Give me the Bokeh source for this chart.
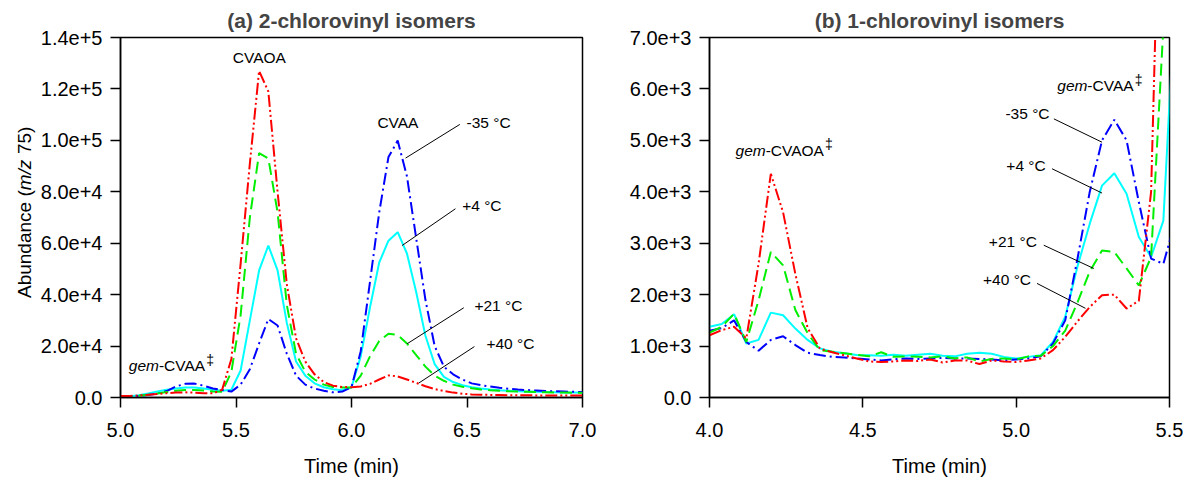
from math import pi
from bokeh.plotting import figure
from bokeh.layouts import row
from bokeh.models import Range1d, FixedTicker, Label
from bokeh.embed import file_html
from bokeh.resources import INLINE

FONT = "Liberation Sans"

# ---------------- data: (a) 2-chlorovinyl isomers ----------------
t_left = [5.00, 5.04, 5.08, 5.12, 5.16, 5.20, 5.24, 5.28, 5.32, 5.36, 5.40, 5.44, 5.48,
          5.52, 5.56, 5.60, 5.64, 5.68, 5.72, 5.76, 5.80, 5.84, 5.88, 5.92, 5.96, 6.00,
          6.04, 6.08, 6.12, 6.16, 6.20, 6.24, 6.28, 6.32, 6.36, 6.40, 6.44, 6.48, 6.52,
          6.56, 6.60, 6.64, 6.68, 6.72, 6.76, 6.80, 6.84, 6.88, 6.92, 6.96, 7.00]
a_m35 = [300, 400, 600, 1000, 1500, 2500, 4300, 5300, 5400, 4600, 3500, 2900, 2300,
         5000, 11000, 21000, 30500, 28000, 17000, 8500, 5000, 3500, 2600, 2000, 2300, 4000,
         18000, 45000, 72000, 93500, 99900, 86000, 62000, 38000, 20000, 12000, 9000, 7000, 5500,
         4800, 4300, 3800, 3400, 3100, 2900, 2700, 2500, 2400, 2300, 2200, 2100]
a_p4 = [400, 500, 900, 1600, 2300, 3000, 3500, 3900, 3900, 3500, 3000, 2600, 3000,
        10500, 30000, 49400, 59100, 49400, 29000, 14000, 8500, 5500, 4000, 3200, 2800, 4000,
        16000, 35000, 52500, 61000, 64300, 56000, 41000, 24000, 13000, 8000, 6000, 4800, 4000,
        3500, 3100, 2800, 2600, 2400, 2300, 2200, 2100, 2000, 1900, 1900, 1800]
a_p21 = [300, 400, 700, 1100, 1600, 2100, 2600, 2900, 2900, 2700, 2300, 2200, 10000,
         32000, 70000, 95000, 93000, 72000, 36000, 17000, 10000, 7000, 5000, 4100, 3900, 3900,
         8500, 16000, 22000, 24800, 24300, 21000, 16500, 12000, 8500, 6500, 5000, 4200, 3600,
         3100, 2800, 2600, 2400, 2300, 2200, 2100, 2000, 1900, 1900, 1800, 1800]
a_p40 = [600, 600, 800, 1100, 1400, 1700, 1900, 2000, 1900, 1700, 1600, 3000, 15000,
         52000, 91000, 127000, 119000, 80000, 44000, 23000, 14000, 9000, 6000, 4600, 4100, 4000,
         4300, 5300, 7000, 8600, 8200, 7000, 5700, 4400, 3300, 2500, 1900, 1500, 1200,
         1100, 1000, 1000, 900, 900, 900, 800, 800, 800, 800, 800, 800]

# ---------------- data: (b) 1-chlorovinyl isomers ----------------
t_right = [4.00, 4.04, 4.08, 4.12, 4.16, 4.20, 4.24, 4.28, 4.32, 4.36, 4.40, 4.44, 4.48,
           4.52, 4.56, 4.60, 4.64, 4.68, 4.72, 4.76, 4.80, 4.84, 4.88, 4.92, 4.96, 5.00,
           5.04, 5.08, 5.12, 5.16, 5.20, 5.24, 5.28, 5.32, 5.36, 5.40, 5.44, 5.48, 5.52]
b_m35 = [1300, 1350, 1500, 1080, 910, 1120, 1190, 1020, 870, 825, 790, 780, 760,
         740, 720, 740, 760, 750, 760, 770, 760, 760, 750, 740, 720, 740,
         760, 800, 1050, 1500, 2700, 4000, 5000, 5400, 5000, 3800, 2700, 2600, 3450]
b_p4 = [1375, 1430, 1620, 1050, 1120, 1650, 1600, 1340, 1120, 955, 890, 860, 825,
        820, 810, 830, 810, 830, 850, 810, 800, 850, 870, 850, 790, 760,
        790, 820, 1080, 1570, 2550, 3380, 4120, 4360, 3960, 3120, 2730, 3440, 8040]
b_p21 = [1260, 1375, 1630, 1080, 1890, 2830, 2570, 1700, 1250, 920, 890, 860, 830,
         800, 880, 790, 800, 790, 780, 800, 760, 780, 700, 750, 760, 740,
         800, 810, 1000, 1300, 1850, 2450, 2860, 2830, 2510, 2180, 2730, 7200, 9000]
b_p40 = [1210, 1310, 1375, 1150, 2600, 4350, 3600, 2400, 1350, 950, 880, 820, 760,
         700, 690, 700, 720, 710, 740, 680, 720, 720, 650, 720, 700, 690,
         720, 760, 920, 1180, 1480, 1760, 1990, 2000, 1730, 1880, 4000, 13000, 20000]

# ---------------- ticks ----------------
xt_left = [5.0, 5.5, 6.0, 6.5, 7.0]
xl_left = ["5.0", "5.5", "6.0", "6.5", "7.0"]
yt_left = [0, 20000, 40000, 60000, 80000, 100000, 120000, 140000]
yl_left = ["0.0", "2.0e+4", "4.0e+4", "6.0e+4", "8.0e+4", "1.0e+5", "1.2e+5", "1.4e+5"]
xt_right = [4.0, 4.5, 5.0, 5.5]
xl_right = ["4.0", "4.5", "5.0", "5.5"]
yt_right = [0, 1000, 2000, 3000, 4000, 5000, 6000, 7000]
yl_right = ["0.0", "1.0e+3", "2.0e+3", "3.0e+3", "4.0e+3", "5.0e+3", "6.0e+3", "7.0e+3"]

temps = ["-35 °C", "+4 °C", "+21 °C", "+40 °C"]

# annotation anchors (text left/middle, leader start, leader end)
lab_left_x = [6.498, 6.479, 6.532, 6.584]
lab_left_y = [106900, 74700, 35800, 21100]
lead_left_x0 = [6.469, 6.450, 6.486, 6.532]
lead_left_y0 = [106200, 73400, 34900, 19800]
lead_left_x1 = [6.234, 6.219, 6.241, 6.291]
lead_left_y1 = [93100, 59100, 20900, 5600]

lab_right_x = [4.965, 4.968, 4.911, 4.892]
lab_right_y = [5526, 4512, 3025, 2296]
lead_right_x0 = [5.123, 5.117, 5.090, 5.068]
lead_right_y0 = [5418, 4448, 2961, 2218]
lead_right_x1 = [5.280, 5.280, 5.253, 5.226]
lead_right_y1 = [4964, 3975, 2509, 1734]

styles = [
    ("#0000FF", "12 4 2 4"),      # -35
    ("#00FFFF", "solid"),         # +4
    ("#00EE00", "12 6"),          # +21
    ("#FF0000", "12 3 2 3 2 3"),  # +40
]

H = 480
TOP = 37
BOTTOM = 83


def make_fig(title, xr, yr, width, border_left, border_right):
    p = figure(width=width, height=H, output_backend="svg", toolbar_location=None,
               x_range=Range1d(*xr), y_range=Range1d(*yr),
               min_border_left=border_left, min_border_right=border_right,
               min_border_top=TOP, min_border_bottom=BOTTOM)
    p.title.text = title
    p.title.align = "center"
    p.title.text_font = FONT
    p.title.text_font_size = "21px"
    p.title.text_font_style = "bold"
    p.title.standoff = 11
    p.xgrid.visible = False
    p.ygrid.visible = False
    p.outline_line_color = "black"
    p.outline_line_width = 1.5
    p.outline_line_alpha = 1
    p.background_fill_color = "white"
    p.border_fill_color = "white"
    for ax in (p.xaxis[0], p.yaxis[0]):
        ax.axis_line_color = "black"
        ax.axis_line_width = 1.5
        ax.major_tick_line_color = "black"
        ax.major_tick_line_width = 1.5
        ax.major_tick_in = 0
        ax.major_tick_out = 10
        ax.minor_tick_line_color = None
        ax.major_label_text_font = FONT
        ax.major_label_text_font_size = "20px"
        ax.major_label_text_color = "black"
        ax.axis_label_text_font = FONT
        ax.axis_label_text_font_size = "20px"
        ax.axis_label_text_font_style = "normal"
        ax.axis_label_text_color = "black"
    p.xaxis[0].major_label_standoff = 15
    p.yaxis[0].major_label_standoff = 8
    p.xaxis[0].axis_label = "Time (min)"
    p.xaxis[0].axis_label_standoff = 15
    return p


def lab(p, x, y, text, size="15.5px", style="normal", align="left", xo=0, yo=0, angle=0):
    p.add_layout(Label(x=x, y=y, text=text, text_font=FONT, text_font_size=size,
                       text_font_style=style, text_align=align, text_baseline="middle",
                       x_offset=xo, y_offset=yo, angle=angle, text_color="black"))


def gem_label(p, x, y, rest, rest_w):
    lab(p, x, y, "gem", style="italic")
    lab(p, x, y, rest, xo=30.1)
    lab(p, x, y, "\u2021", size="14px", xo=30.1 + rest_w, yo=6)


# ---------------- y-axis title strip (mixed italic text) ----------------
# its frame is aligned with the panels' frames (page y 37..397), so y = -page_y
p0 = figure(width=36, height=H, output_backend="svg", toolbar_location=None,
            x_range=Range1d(0, 36), y_range=Range1d(-(H - BOTTOM), -TOP),
            x_axis_location=None, y_axis_location=None,
            min_border_left=0, min_border_right=0,
            min_border_top=TOP, min_border_bottom=BOTTOM)
p0.xgrid.visible = False
p0.ygrid.visible = False
p0.outline_line_color = None
lab(p0, 24, -297.5, "Abundance (", size="19px", angle=pi / 2)
lab(p0, 24, -189.8, "m/z", size="19px", style="italic", angle=pi / 2)
lab(p0, 24, -153.6, "75)", size="19px", angle=pi / 2)

# ---------------- left panel ----------------
p1 = make_fig("(a) 2-chlorovinyl isomers", (5.0, 7.0), (0, 140000), 564, 84, 18)
p1.xaxis[0].ticker = FixedTicker(ticks=xt_left)
p1.xaxis[0].major_label_overrides = dict(zip(xt_left, xl_left))
p1.yaxis[0].ticker = FixedTicker(ticks=yt_left)
p1.yaxis[0].major_label_overrides = dict(zip(yt_left, yl_left))

left_series = [a_m35, a_p4, a_p21, a_p40]
for idx in [1, 0, 2, 3]:
    col, dash = styles[idx]
    p1.line(t_left, left_series[idx], line_color=col, line_width=2, line_dash=dash)

p1.segment(x0=lead_left_x0, y0=lead_left_y0, x1=lead_left_x1, y1=lead_left_y1,
           line_color="black", line_width=1)
for i in range(4):
    lab(p1, lab_left_x[i], lab_left_y[i], temps[i])
lab(p1, 5.601, 132300, "CVAOA", align="center")
lab(p1, 6.201, 107000, "CVAA", align="center")
gem_label(p1, 5.036, 12400, "-CVAA", 47.4)

# ---------------- right panel ----------------
p2 = make_fig("(b) 1-chlorovinyl isomers", (4.0, 5.5), (0, 7000), 583, 109, 14)
p2.xaxis[0].ticker = FixedTicker(ticks=xt_right)
p2.xaxis[0].major_label_overrides = dict(zip(xt_right, xl_right))
p2.yaxis[0].ticker = FixedTicker(ticks=yt_right)
p2.yaxis[0].major_label_overrides = dict(zip(yt_right, yl_right))

right_series = [b_m35, b_p4, b_p21, b_p40]
for idx in [1, 0, 2, 3]:
    col, dash = styles[idx]
    p2.line(t_right, right_series[idx], line_color=col, line_width=2, line_dash=dash)

p2.segment(x0=lead_right_x0, y0=lead_right_y0, x1=lead_right_x1, y1=lead_right_y1,
           line_color="black", line_width=1)
for i in range(4):
    lab(p2, lab_right_x[i], lab_right_y[i], temps[i])
gem_label(p2, 4.085, 4803, "-CVAOA", 59.4)
gem_label(p2, 5.134, 6063, "-CVAA", 47.4)

layout = row(p0, p1, p2)
open("out.html", "w").write(file_html(layout, INLINE))
